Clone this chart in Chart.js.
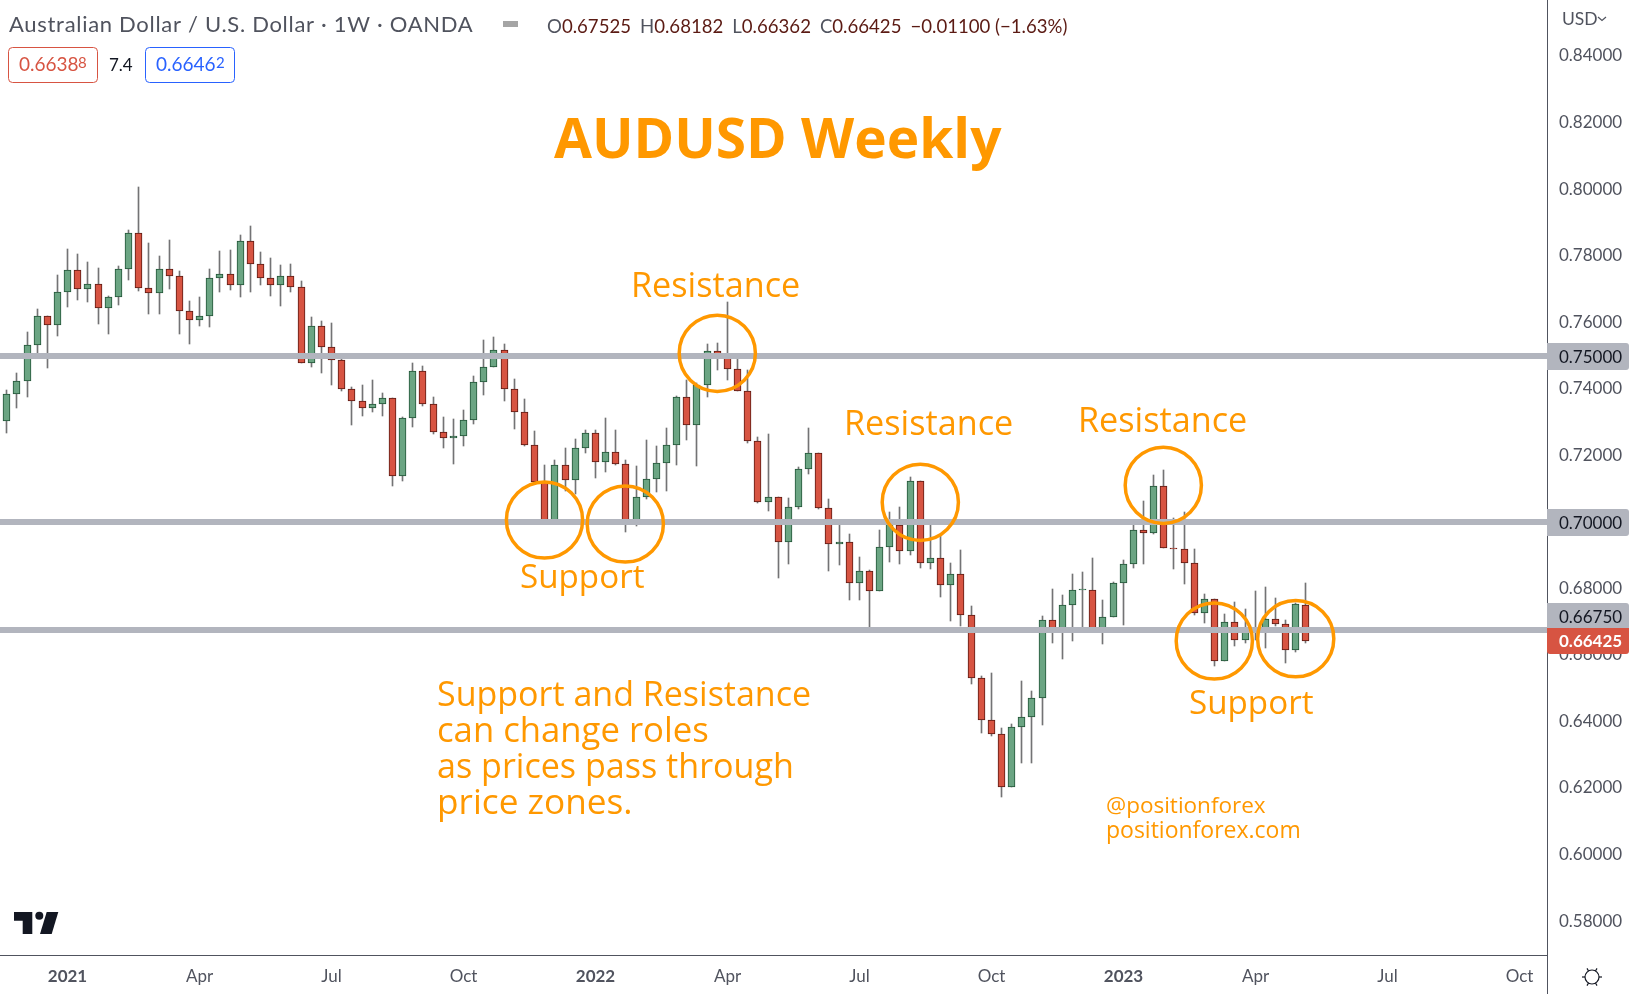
<!DOCTYPE html>
<html>
<head>
<meta charset="utf-8">
<title>AUDUSD Weekly</title>
<script src="https://cdn.jsdelivr.net/npm/chart.js@4/dist/chart.umd.js"></script>
<style>
  html, body { margin: 0; padding: 0; background: #fff; overflow: hidden; }
  #wrap { width: 1633px; height: 994px; }
</style>
</head>
<body>
<div id="wrap"><canvas id="chart" width="1633" height="994"></canvas></div>
<script>
// weekly candles (first bar is late 2020)
const opens = [0.7305,0.7386,0.7425,0.7533,0.7620,0.7593,0.7692,0.7758,0.7701,0.7716,0.7644,0.7677,0.7761,0.7870,0.7704,0.7689,0.7761,0.7740,0.7635,0.7608,0.7620,0.7734,0.7746,0.7713,0.7846,0.7776,0.7734,0.7713,0.7740,0.7707,0.7479,0.7590,0.7527,0.7488,0.7401,0.7365,0.7344,0.7356,0.7374,0.7139,0.7314,0.7455,0.7356,0.7272,0.7253,0.7259,0.7308,0.7422,0.7467,0.7518,0.7401,0.7332,0.7232,0.7120,0.7002,0.7172,0.7127,0.7223,0.7268,0.7181,0.7211,0.7175,0.7002,0.7076,0.7130,0.7178,0.7232,0.7377,0.7293,0.7413,0.7515,0.7495,0.7461,0.7395,0.7244,0.7061,0.7076,0.6941,0.7046,0.7160,0.7208,0.7043,0.6935,0.6941,0.6818,0.6854,0.6794,0.6926,0.6992,0.6914,0.7124,0.6878,0.6893,0.6812,0.6845,0.6721,0.6532,0.6406,0.6364,0.6205,0.6385,0.6415,0.6472,0.6706,0.6672,0.6752,0.6796,0.6797,0.6672,0.6715,0.6818,0.6875,0.6977,0.6968,0.7109,0.6923,0.6920,0.6878,0.6727,0.6770,0.6583,0.6700,0.6646,0.6672,0.6672,0.6709,0.6694,0.6616,0.67525];
const highs = [0.7399,0.7449,0.7572,0.7641,0.7620,0.7743,0.7822,0.7806,0.7782,0.7764,0.7680,0.7770,0.7879,0.8008,0.7840,0.7800,0.7849,0.7755,0.7665,0.7677,0.7761,0.7816,0.7819,0.7864,0.7891,0.7813,0.7794,0.7773,0.7776,0.7725,0.7617,0.7605,0.7599,0.7493,0.7407,0.7413,0.7428,0.7389,0.7374,0.7317,0.7479,0.7471,0.7377,0.7317,0.7311,0.7338,0.7440,0.7548,0.7557,0.7536,0.7431,0.7371,0.7275,0.7172,0.7187,0.7223,0.7250,0.7278,0.7278,0.7314,0.7278,0.7187,0.7169,0.7247,0.7229,0.7284,0.7380,0.7429,0.7419,0.7536,0.7539,0.7662,0.7491,0.7458,0.7256,0.7265,0.7076,0.7073,0.7166,0.7284,0.7208,0.7070,0.6993,0.6965,0.6896,0.6857,0.6977,0.7031,0.7046,0.7136,0.7124,0.6992,0.6958,0.6878,0.6917,0.6749,0.6538,0.6547,0.6382,0.6394,0.6523,0.6493,0.6718,0.6800,0.6782,0.6845,0.6851,0.6893,0.6767,0.6821,0.6887,0.6992,0.7064,0.7142,0.7157,0.7013,0.7031,0.6920,0.6785,0.6770,0.6724,0.6761,0.6739,0.6794,0.6806,0.6773,0.6706,0.6758,0.68182];
const lows = [0.7269,0.7343,0.7376,0.7509,0.7463,0.7559,0.7646,0.7667,0.7661,0.7595,0.7565,0.7652,0.7727,0.7694,0.7625,0.7625,0.7700,0.7565,0.7535,0.7589,0.7586,0.7691,0.7697,0.7676,0.7691,0.7712,0.7679,0.7649,0.7691,0.7479,0.7466,0.7448,0.7412,0.7394,0.7292,0.7319,0.7331,0.7319,0.7108,0.7123,0.7286,0.7349,0.7264,0.7222,0.7174,0.7228,0.7295,0.7382,0.7467,0.7364,0.7280,0.7228,0.7120,0.6998,0.6998,0.7093,0.7086,0.7208,0.7132,0.7150,0.7171,0.6970,0.6990,0.7069,0.7090,0.7095,0.7171,0.7246,0.7168,0.7376,0.7459,0.7429,0.7395,0.7238,0.7058,0.7033,0.6832,0.6874,0.7039,0.7144,0.7040,0.6853,0.6871,0.6766,0.6766,0.6685,0.6794,0.6880,0.6874,0.6902,0.6863,0.6859,0.6775,0.6702,0.6687,0.6513,0.6367,0.6358,0.6174,0.6205,0.6276,0.6276,0.6391,0.6637,0.6589,0.6643,0.6685,0.6672,0.6634,0.6715,0.6691,0.6862,0.6874,0.6964,0.6923,0.6860,0.6814,0.6721,0.6697,0.6567,0.6583,0.6627,0.6637,0.6647,0.6621,0.6687,0.6576,0.6610,0.66362];
const closes = [0.7386,0.7425,0.7533,0.7620,0.7593,0.7692,0.7758,0.7701,0.7716,0.7644,0.7677,0.7761,0.7870,0.7704,0.7689,0.7761,0.7740,0.7635,0.7608,0.7620,0.7734,0.7746,0.7713,0.7846,0.7776,0.7734,0.7713,0.7740,0.7707,0.7479,0.7590,0.7527,0.7488,0.7401,0.7365,0.7344,0.7356,0.7374,0.7139,0.7314,0.7455,0.7356,0.7272,0.7253,0.7259,0.7308,0.7422,0.7467,0.7518,0.7401,0.7332,0.7232,0.7120,0.7002,0.7172,0.7127,0.7223,0.7268,0.7181,0.7211,0.7175,0.7002,0.7076,0.7130,0.7178,0.7232,0.7377,0.7293,0.7413,0.7515,0.7495,0.7461,0.7395,0.7244,0.7061,0.7076,0.6941,0.7046,0.7160,0.7208,0.7043,0.6935,0.6941,0.6818,0.6854,0.6794,0.6926,0.6995,0.6914,0.7124,0.6878,0.6893,0.6812,0.6845,0.6721,0.6532,0.6406,0.6364,0.6205,0.6385,0.6415,0.6472,0.6706,0.6672,0.6752,0.6797,0.6798,0.6672,0.6715,0.6818,0.6875,0.6977,0.6968,0.7109,0.6923,0.6920,0.6878,0.6727,0.6770,0.6583,0.6700,0.6646,0.6673,0.6681,0.6709,0.6694,0.6616,0.6755,0.66425];

// horizontal zones and price axis
const zoneValues = [0.75, 0.70, 0.6675];
const lastPrice = 0.66425;
const priceTicks = [0.58,0.60,0.62,0.64,0.66,0.68,0.70,0.72,0.74,0.76,0.78,0.80,0.82,0.84];
const timeTickWeeks = [6,19,32,45,58,71,84,97,110,123,136,149];
const timeTickLabels = ["2021","Apr","Jul","Oct","2022","Apr","Jul","Oct","2023","Apr","Jul","Oct"];
const yearLabels = ["2021","2022","2023"];

const UP = "#6ba583", DOWN = "#d75442", UP_EDGE = "#225437", DOWN_EDGE = "#5b1a13";
const WICK = "#737375", ZONE = "#b2b5be", ORANGE = "#ff9800", AXIS = "#50535e";
const UI_FONT = "Lato, sans-serif";
const NOTE_FONT = "'Open Sans', sans-serif";

// 整数ピクセルに揃える (bars stay crisp like the original)
class SnapScale extends Chart.LinearScale {
  static id = "snap";
  static defaults = Chart.LinearScale.defaults;
  getPixelForValue(value) {
    const px = super.getPixelForValue(value);
    return this.isHorizontal() ? Math.round(px) + 0.5 : Math.round(px);
  }
}
Chart.register(SnapScale);

const weeks = opens.map((_, i) => i);
const wickData = weeks.map((i) => ({ x: i, y: [lows[i], highs[i]] }));
const bodyData = weeks.map((i) => ({ x: i, y: [opens[i], closes[i]] }));
const isUp = (i) => closes[i] >= opens[i];

const zoneDatasets = zoneValues.map((v) => ({
  type: "line",
  data: [{ x: -1, y: v }, { x: 153, y: v }],
  borderColor: ZONE,
  borderWidth: 6,
  pointRadius: 0,
  order: 1,
}));

// 円の注釈
const circles = [[544.5,520],[625.3,524],[717.3,353.3],[920.3,502.3],[1163.3,485.3],[1214.3,641],[1295.7,638.7]];

const notes = [
  { text: "AUDUSD Weekly", x: 554, y: 158, font: "bold 55px " + NOTE_FONT },
  { text: "Resistance", x: 631, y: 297, font: "34.2px " + NOTE_FONT },
  { text: "Resistance", x: 844, y: 435, font: "34.2px " + NOTE_FONT },
  { text: "Resistance", x: 1078, y: 432, font: "34.2px " + NOTE_FONT },
  { text: "Support", x: 520, y: 588, font: "33.2px " + NOTE_FONT },
  { text: "Support", x: 1189, y: 714, font: "33.2px " + NOTE_FONT },
  { text: "Support and Resistance", x: 437, y: 706, font: "34px " + NOTE_FONT },
  { text: "can change roles", x: 437, y: 742, font: "34.7px " + NOTE_FONT },
  { text: "as prices pass through", x: 437, y: 778, font: "34.1px " + NOTE_FONT },
  { text: "price zones.", x: 437, y: 814, font: "35.2px " + NOTE_FONT },
  { text: "@positionforex", x: 1106, y: 813, font: "22.5px " + NOTE_FONT },
  { text: "positionforex.com", x: 1106, y: 838, font: "23px " + NOTE_FONT },
];

function roundBox(ctx, x, y, w, h, r) {
  ctx.beginPath();
  ctx.roundRect(x, y, w, h, r);
}

function drawText(ctx, text, x, y, font, color, align) {
  ctx.font = font;
  ctx.fillStyle = color;
  ctx.textAlign = align || "left";
  ctx.textBaseline = "alphabetic";
  ctx.fillText(text, x, y);
}

const overlayPlugin = {
  id: "overlay",
  afterDraw(chart) {
    const { ctx, scales } = chart;
    const axisX = chart.chartArea.right;
    const axisY = chart.chartArea.bottom;
    ctx.save();

    // 軸の残り
    ctx.strokeStyle = AXIS;
    ctx.lineWidth = 1;
    ctx.beginPath();
    ctx.moveTo(axisX + 0.5, axisY);
    ctx.lineTo(axisX + 0.5, 994);
    ctx.stroke();

    // circles
    ctx.strokeStyle = ORANGE;
    ctx.lineWidth = 3.5;
    circles.forEach(([cx, cy]) => {
      ctx.beginPath();
      ctx.arc(cx, cy, 38.1, 0, Math.PI * 2);
      ctx.stroke();
    });

    notes.forEach((n) => drawText(ctx, n.text, n.x, n.y, n.font, ORANGE));

    // price labels: the lowest zone label is pushed up by the last price label
    zoneValues.forEach((v, i) => {
      let py = scales.y.getPixelForValue(v) + 0.5;
      if (i === 2) py -= 14;
      ctx.fillStyle = ZONE;
      roundBox(ctx, axisX, py - 13.5, 82, 27, [0, 3, 3, 0]);
      ctx.fill();
      drawText(ctx, v.toFixed(5), 1559, py + 6, "17px " + UI_FONT, "#131722");
    });
    const lastY = scales.y.getPixelForValue(lastPrice);
    ctx.fillStyle = DOWN;
    roundBox(ctx, axisX, lastY - 13, 82, 26, [0, 0, 3, 3]);
    ctx.fill();
    drawText(ctx, lastPrice.toFixed(5), 1559, lastY + 6, "bold 17px " + UI_FONT, "#ffffff");

    // header
    ctx.letterSpacing = "0.7px";
    drawText(ctx, "Australian Dollar / U.S. Dollar \u00b7 1W \u00b7 OANDA", 9, 32, "22px " + UI_FONT, AXIS);
    ctx.letterSpacing = "0px";
    let hx = 547;
    [["O", "0.67525"], ["H", "0.68182"], ["L", "0.66362"], ["C", "0.66425"]].forEach(([k, v]) => {
      drawText(ctx, k, hx, 33, "18.6px " + UI_FONT, AXIS);
      hx += ctx.measureText(k).width;
      drawText(ctx, v, hx, 33, "18.6px " + UI_FONT, DOWN_EDGE);
      hx += ctx.measureText(v).width + 9;
    });
    drawText(ctx, "\u22120.01100 (\u22121.63%)", hx, 33, "18.6px " + UI_FONT, DOWN_EDGE);

    // bid / ask
    ctx.lineWidth = 1;
    ctx.strokeStyle = DOWN;
    roundBox(ctx, 8.5, 47.5, 89, 35, 4);
    ctx.stroke();
    ctx.strokeStyle = "#2962ff";
    roundBox(ctx, 145.5, 47.5, 89, 35, 4);
    ctx.stroke();
    drawText(ctx, "0.6638", 19, 71, "19px " + UI_FONT, DOWN);
    drawText(ctx, "8", 78, 68, "15px " + UI_FONT, DOWN);
    drawText(ctx, "7.4", 109, 71, "17px " + UI_FONT, "#131722");
    drawText(ctx, "0.6646", 156, 71, "19px " + UI_FONT, "#2962ff");
    drawText(ctx, "2", 216, 68, "15px " + UI_FONT, "#2962ff");

    drawText(ctx, "USD", 1562, 25, "17.5px " + UI_FONT, AXIS);
    ctx.strokeStyle = AXIS;
    ctx.lineWidth = 1.2;
    ctx.beginPath();
    ctx.moveTo(1598, 17);
    ctx.lineTo(1602, 20.5);
    ctx.lineTo(1606, 17);
    ctx.stroke();

    // small pane icon
    ctx.fillStyle = "#a5a5a5";
    ctx.fillRect(503, 21, 15, 6);

    // TV logo
    ctx.fillStyle = "#131722";
    ctx.beginPath();
    ctx.moveTo(14, 912); ctx.lineTo(32.3, 912); ctx.lineTo(32.3, 934); ctx.lineTo(22.7, 934);
    ctx.lineTo(22.7, 920.7); ctx.lineTo(14, 920.7); ctx.closePath();
    ctx.fill();
    ctx.beginPath();
    ctx.arc(39.3, 915.7, 4, 0, Math.PI * 2);
    ctx.fill();
    ctx.beginPath();
    ctx.moveTo(46.7, 912); ctx.lineTo(58.3, 912); ctx.lineTo(51.7, 934); ctx.lineTo(40, 934); ctx.closePath();
    ctx.fill();

    // settings icon
    const gx = 1592, gy = 977;
    ctx.strokeStyle = "#131722";
    ctx.lineWidth = 1.2;
    ctx.beginPath();
    ctx.arc(gx, gy, 7, 0, Math.PI * 2);
    ctx.stroke();
    for (let a = 0; a < 6; a++) {
      const t = (a * Math.PI) / 3;
      ctx.beginPath();
      ctx.moveTo(gx + Math.cos(t) * 7, gy + Math.sin(t) * 7);
      ctx.lineTo(gx + Math.cos(t) * 10, gy + Math.sin(t) * 10);
      ctx.stroke();
    }
    ctx.restore();
  },
};

new Chart(document.getElementById("chart"), {
  data: {
    datasets: [
      {
        type: "bar",
        data: wickData,
        backgroundColor: WICK,
        barThickness: 1,
        grouped: false,
        order: 3,
      },
      {
        type: "bar",
        data: bodyData,
        backgroundColor: weeks.map((i) => (isUp(i) ? UP : DOWN)),
        borderColor: weeks.map((i) => (isUp(i) ? UP_EDGE : DOWN_EDGE)),
        borderWidth: 1,
        borderSkipped: false,
        barThickness: 7,
        grouped: false,
        order: 2,
      },
      ...zoneDatasets,
    ],
  },
  options: {
    responsive: false,
    animation: false,
    layout: { padding: 0 },
    plugins: { legend: { display: false }, tooltip: { enabled: false } },
    scales: {
      x: {
        type: "snap",
        min: -0.62,
        max: 151.8,
        offset: false,
        grid: { display: false, drawTicks: false },
        border: { display: true, color: AXIS },
        afterBuildTicks(scale) {
          scale.ticks = timeTickWeeks.map((value) => ({ value }));
        },
        afterFit(scale) {
          scale.height = 39;
          scale.paddingLeft = 0;
          scale.paddingRight = 0;
        },
        ticks: {
          autoSkip: false,
          maxRotation: 0,
          padding: 11,
          color: AXIS,
          callback(value, index) {
            return timeTickLabels[index];
          },
          font(ctx) {
            const isYear = yearLabels.includes(timeTickLabels[ctx.index]);
            return { family: UI_FONT, size: 17, weight: isYear ? "bold" : "normal" };
          },
        },
      },
      y: {
        type: "snap",
        position: "right",
        min: 0.569937,
        max: 0.856982,
        grid: { display: false, drawTicks: false },
        border: { display: true, color: AXIS },
        afterBuildTicks(scale) {
          scale.ticks = priceTicks.map((value) => ({ value }));
        },
        afterFit(scale) {
          scale.width = 86;
          scale.paddingTop = 0;
          scale.paddingBottom = 0;
        },
        ticks: {
          autoSkip: false,
          padding: 12,
          color: AXIS,
          font: { family: UI_FONT, size: 17 },
          callback(value) {
            return value.toFixed(5);
          },
        },
      },
    },
  },
  plugins: [overlayPlugin],
});
</script>
</body>
</html>
